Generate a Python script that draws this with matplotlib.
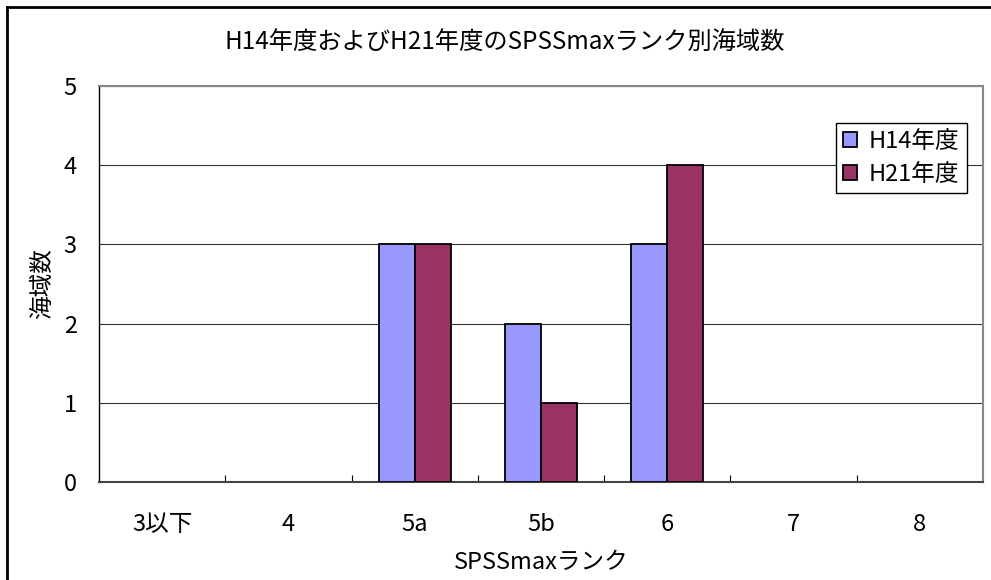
import matplotlib
matplotlib.use("Agg")
import matplotlib.pyplot as plt
from matplotlib.lines import Line2D
from matplotlib.patches import Patch
import numpy as np

plt.rcParams['font.family'] = ['Noto Sans CJK JP', 'DejaVu Sans']

ranks = ["3以下", "4", "5a", "5b", "6", "7", "8"]
h14 = [0, 0, 3, 2, 3, 0, 0]
h21 = [0, 0, 3, 1, 4, 0, 0]
series_names = ["H14年度", "H21年度"]
series_colors = ["#9999FF", "#993366"]
y_ticks = [0, 1, 2, 3, 4, 5]

W, H = 991, 580
fig = plt.figure(figsize=(W / 100, H / 100), dpi=100)
ax = fig.add_axes([99 / W, 1 - 482 / H, (983 - 99) / W, (482 - 86) / H])

x = np.arange(len(ranks))
bw = 1 / 3.5
for vals, off, col in ((h14, -bw / 2, series_colors[0]), (h21, bw / 2, series_colors[1])):
    bars = ax.bar(x + off, vals, bw, color=col, edgecolor="black", linewidth=1.3,
                  zorder=3)
    # empty bars leave no mark on the baseline
    for rect, v in zip(bars, vals):
        if v == 0:
            rect.set_visible(False)

ax.set_xlim(-0.5, len(ranks) - 0.5)
ax.set_ylim(0, 5)
ax.set_yticks(y_ticks)
ax.set_xticks(x)
ax.set_xticklabels(ranks)
ax.set_xticks(x[:-1] + 0.5, minor=True)
ax.tick_params(axis="x", which="major", length=0, pad=22, labelsize=17)
ax.tick_params(axis="x", which="minor", length=5, direction="in", width=0.8,
               color="black")
ax.tick_params(axis="y", length=0, pad=16, labelsize=17)

ax.grid(axis="y", color="#333333", linewidth=0.8, zorder=0)
ax.set_axisbelow(True)

ax.spines["left"].set_color("black")
ax.spines["left"].set_linewidth(1.0)
ax.spines["bottom"].set_color("#444444")
ax.spines["bottom"].set_linewidth(1.5)
for s in ("top", "right"):
    ax.spines[s].set_color("#888888")
    ax.spines[s].set_linewidth(1.5)

ax.set_xlabel("SPSSmaxランク", fontsize=17, labelpad=11)
ax.set_ylabel("海域数", fontsize=17, labelpad=7)

fig.text(505 / W, 1 - 42 / H, "H14年度およびH21年度のSPSSmaxランク別海域数",
         ha="center", va="center", fontsize=17.5)

handles = [Patch(facecolor=c, edgecolor="black", linewidth=1.3) for c in series_colors]
leg = ax.legend(handles, series_names, loc="upper left",
                bbox_to_anchor=(836 / W, 1 - 123 / H),
                bbox_transform=fig.transFigure, fontsize=17, frameon=True,
                fancybox=False, framealpha=1, edgecolor="black",
                handlelength=0.6, handleheight=0.6, handletextpad=0.5,
                borderpad=0.3, labelspacing=0.4, borderaxespad=0)
leg.get_frame().set_linewidth(1.0)

# outer chart frame (left and top edges visible)
fig.add_artist(Line2D([7 / W, 7 / W], [0, 1 - 7 / H], color="black",
                      linewidth=2, transform=fig.transFigure))
fig.add_artist(Line2D([7 / W, 1], [1 - 7 / H, 1 - 7 / H], color="black",
                      linewidth=2, transform=fig.transFigure))

fig.savefig("out.png", dpi=100)
